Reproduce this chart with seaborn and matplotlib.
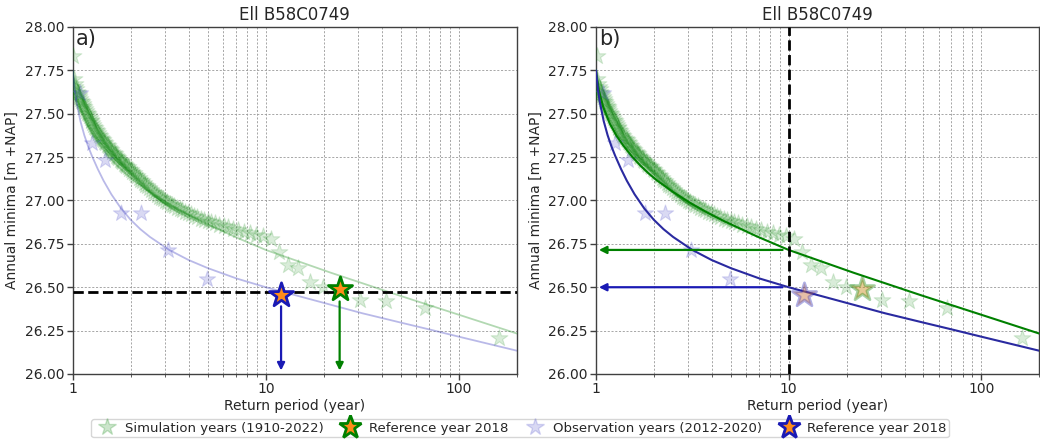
import numpy as np
import pandas as pd
import matplotlib
matplotlib.use("Agg")
import matplotlib.pyplot as plt
import seaborn as sns
from matplotlib.lines import Line2D
from matplotlib.ticker import FixedLocator, NullFormatter, FuncFormatter

# ---------------------------------------------------------------- data
station = "Ell B58C0749"

# simulated annual minimum groundwater heads 1910-2022, sorted [m +NAP]
sim_minima = [
    26.205, 26.378, 26.420, 26.425, 26.488, 26.503, 26.532, 26.608, 26.628, 26.705,
    26.780, 26.795, 26.800, 26.812, 26.818, 26.830, 26.838, 26.846, 26.852, 26.861,
    26.868, 26.874, 26.880, 26.889, 26.896, 26.905, 26.912, 26.921, 26.929, 26.936,
    26.944, 26.950, 26.957, 26.966, 26.973, 26.982, 26.990, 26.998, 27.006, 27.013,
    27.021, 27.030, 27.041, 27.050, 27.061, 27.070, 27.082, 27.091, 27.102, 27.111,
    27.120, 27.131, 27.140, 27.148, 27.157, 27.166, 27.174, 27.182, 27.191, 27.198,
    27.206, 27.213, 27.221, 27.229, 27.236, 27.243, 27.251, 27.259, 27.266, 27.273,
    27.281, 27.289, 27.296, 27.304, 27.312, 27.320, 27.329, 27.337, 27.346, 27.355,
    27.363, 27.371, 27.380, 27.389, 27.398, 27.407, 27.416, 27.426, 27.436, 27.446,
    27.456, 27.466, 27.476, 27.486, 27.496, 27.506, 27.516, 27.527, 27.537, 27.547,
    27.556, 27.566, 27.576, 27.586, 27.596, 27.606, 27.617, 27.628, 27.641, 27.656,
    27.674, 27.702, 27.830,
]
sim_2018 = 26.488

# observed annual minima 2012-2020 [m +NAP]
obs_minima = [26.455, 26.550, 26.715, 26.930, 26.930, 27.233, 27.330, 27.620]
obs_2018 = 26.455

# fitted extreme value curve for the simulated series (return period -> level)
fit_sim_T = [1.0, 1.035, 1.089, 1.180, 1.279, 1.387, 1.531, 1.690, 1.871, 2.070,
             2.512, 3.083, 3.758, 4.581, 5.623, 6.839, 10.0, 21.68, 48.31, 106.9, 200.0]
fit_sim_h = [27.75, 27.635, 27.54, 27.442, 27.372, 27.316, 27.256, 27.204, 27.157,
             27.116, 27.049, 26.986, 26.932, 26.883, 26.837, 26.793, 26.715, 26.584,
             26.455, 26.331, 26.233]

# fitted extreme value curve for the observed series
fit_obs_T = [1.0, 1.023, 1.047, 1.096, 1.148, 1.202, 1.259, 1.349, 1.445, 1.585,
             1.778, 1.995, 2.239, 2.512, 3.162, 3.981, 5.012, 7.079, 10.0, 15.85,
             31.62, 50.12, 70.79, 100.0, 200.0]
fit_obs_h = [27.75, 27.64, 27.566, 27.458, 27.377, 27.312, 27.256, 27.181, 27.114,
             27.036, 26.955, 26.889, 26.835, 26.790, 26.715, 26.657, 26.610, 26.550,
             26.500, 26.440, 26.350, 26.296, 26.256, 26.215, 26.134]

threshold_2018 = 26.47   # level reached in 2018
design_T = 10.0          # return period used in panel b

legend_labels = ["Simulation years (1910-2022)", "Reference year 2018",
                 "Observation years (2012-2020)", "Reference year 2018"]


def return_period(values):
    """Median-rank plotting position for annual minima: T = (n+0.4)/(rank-0.3)."""
    v = np.asarray(values, dtype=float)
    n = len(v)
    order = np.argsort(v, kind="stable")
    ranks = np.empty(n)
    ranks[order] = np.arange(1, n + 1)
    return (n + 0.4) / (ranks - 0.3)


sim_df = pd.DataFrame({"T": return_period(sim_minima), "h": sim_minima})
obs_df = pd.DataFrame({"T": return_period(obs_minima), "h": obs_minima})
fit_sim_df = pd.DataFrame({"T": fit_sim_T, "h": fit_sim_h})
fit_obs_df = pd.DataFrame({"T": fit_obs_T, "h": fit_obs_h})

sim_ref_T = float(sim_df.loc[np.isclose(sim_df["h"], sim_2018), "T"].iloc[0])
obs_ref_T = float(obs_df.loc[np.isclose(obs_df["h"], obs_2018), "T"].iloc[0])
sim_at_design = float(fit_sim_df.loc[np.isclose(fit_sim_df["T"], design_T), "h"].iloc[0])
obs_at_design = float(fit_obs_df.loc[np.isclose(fit_obs_df["T"], design_T), "h"].iloc[0])

# ---------------------------------------------------------------- style
sns.set_style("ticks")
plt.rcParams["font.family"] = ["DejaVu Sans"]
plt.rcParams["axes.edgecolor"] = "0.25"
plt.rcParams["xtick.color"] = "0.25"
plt.rcParams["ytick.color"] = "0.25"
plt.rcParams["xtick.labelcolor"] = "0.15"
plt.rcParams["ytick.labelcolor"] = "0.15"

GREEN = "green"
BLUE = "#1a1ab4"
ORANGE = "#ff8c1a"
SIM_C = "green"
OBS_C = "#5555cc"

fig = plt.figure(figsize=(10.4, 4.44), dpi=100)
ax_a = fig.add_axes([0.0699, 0.1577, 0.4272, 0.7815])
ax_b = fig.add_axes([0.5731, 0.1577, 0.4262, 0.7815])


def base_panel(ax, letter):
    sns.scatterplot(data=sim_df, x="T", y="h", ax=ax, marker="*", s=160,
                    color=SIM_C, edgecolor=SIM_C, linewidth=0.8, alpha=0.15,
                    zorder=3, legend=False)
    sns.scatterplot(data=obs_df, x="T", y="h", ax=ax, marker="*", s=150,
                    color=OBS_C, edgecolor=OBS_C, linewidth=0.8, alpha=0.22,
                    zorder=3, legend=False)
    ax.set_xscale("log")
    ax.set_xlim(1, 200)
    ax.set_ylim(26.0, 28.0)
    ax.set_yticks(np.arange(26.0, 28.01, 0.25))
    ax.yaxis.set_major_formatter(FuncFormatter(lambda v, p: f"{v:.2f}"))
    ax.xaxis.set_major_locator(FixedLocator([1, 10, 100]))
    ax.xaxis.set_major_formatter(FuncFormatter(lambda v, p: f"{v:g}"))
    minors = [m * d for d in (1, 10, 100) for m in range(2, 10) if m * d <= 200]
    ax.xaxis.set_minor_locator(FixedLocator(minors))
    ax.xaxis.set_minor_formatter(NullFormatter())
    ax.grid(which="major", axis="both", linestyle=(0, (2.5, 2)), color="0.6", lw=0.6)
    ax.grid(which="minor", axis="x", linestyle=(0, (2.5, 2)), color="0.6", lw=0.6)
    ax.tick_params(axis="both", which="major", labelsize=10, length=4, width=1, pad=2)
    ax.tick_params(axis="x", which="minor", length=2)
    for sp in ax.spines.values():
        sp.set_linewidth(1.0)
    ax.set_title(station, fontsize=12, pad=5)
    ax.text(0.006, 0.995, letter, transform=ax.transAxes, fontsize=15,
            ha="left", va="top", zorder=10)


def fit_lines(ax, sim_color, obs_color, alpha, lw):
    sns.lineplot(data=fit_sim_df, x="T", y="h", ax=ax, color=sim_color,
                 alpha=alpha, lw=lw, zorder=4)
    sns.lineplot(data=fit_obs_df, x="T", y="h", ax=ax, color=obs_color,
                 alpha=alpha, lw=lw, zorder=4)


def ref_stars(ax, alpha):
    sns.scatterplot(x=[obs_ref_T], y=[obs_2018], ax=ax, marker="*", s=330,
                    color=ORANGE, edgecolor=BLUE, linewidth=2, alpha=alpha,
                    zorder=6, legend=False)
    sns.scatterplot(x=[sim_ref_T], y=[sim_2018], ax=ax, marker="*", s=330,
                    color=ORANGE, edgecolor=GREEN, linewidth=2, alpha=alpha,
                    zorder=6, legend=False)


def arrow(ax, start, end, color):
    ax.annotate("", xy=end, xytext=start,
                arrowprops=dict(arrowstyle="-|>", color=color, lw=1.6,
                                mutation_scale=11, shrinkA=0, shrinkB=0),
                zorder=7)


def labels(ax):
    ax.set_xlabel("Return period (year)", fontsize=10, labelpad=2)
    ax.set_ylabel("Annual minima [m +NAP]", fontsize=10, labelpad=4)


# ---------------------------------------------------------------- panel a
base_panel(ax_a, "a)")
fit_lines(ax_a, GREEN, BLUE, 0.3, 1.3)
ax_a.axhline(threshold_2018, color="black", ls="--", lw=2, zorder=5)
ref_stars(ax_a, 1.0)
arrow(ax_a, (obs_ref_T, obs_2018 - 0.065), (obs_ref_T, 26.02), BLUE)
arrow(ax_a, (sim_ref_T, sim_2018 - 0.07), (sim_ref_T, 26.02), GREEN)
labels(ax_a)

# ---------------------------------------------------------------- panel b
base_panel(ax_b, "b)")
fit_lines(ax_b, GREEN, "#2a2aa0", 1.0, 1.5)
ax_b.axvline(design_T, color="black", ls="--", lw=2, zorder=5)
ref_stars(ax_b, 0.35)
arrow(ax_b, (design_T * 0.93, sim_at_design), (1.035, sim_at_design), GREEN)
arrow(ax_b, (design_T * 0.93, obs_at_design), (1.035, obs_at_design), BLUE)
labels(ax_b)

# ---------------------------------------------------------------- legend
handles = [
    Line2D([], [], ls="", marker="*", markersize=13, color=SIM_C,
           markeredgecolor=SIM_C, alpha=0.2),
    Line2D([], [], ls="", marker="*", markersize=17, markerfacecolor=ORANGE,
           markeredgecolor=GREEN, markeredgewidth=2),
    Line2D([], [], ls="", marker="*", markersize=13, color=OBS_C,
           markeredgecolor=OBS_C, alpha=0.22),
    Line2D([], [], ls="", marker="*", markersize=17, markerfacecolor=ORANGE,
           markeredgecolor=BLUE, markeredgewidth=2),
]
fig.legend(handles, legend_labels, loc="lower center", bbox_to_anchor=(0.5, 0.0),
           ncol=4, fontsize=9.5, frameon=True, handletextpad=0.4,
           columnspacing=1.0, borderpad=0.2, edgecolor="0.8")

fig.savefig("out.png", dpi=100)
